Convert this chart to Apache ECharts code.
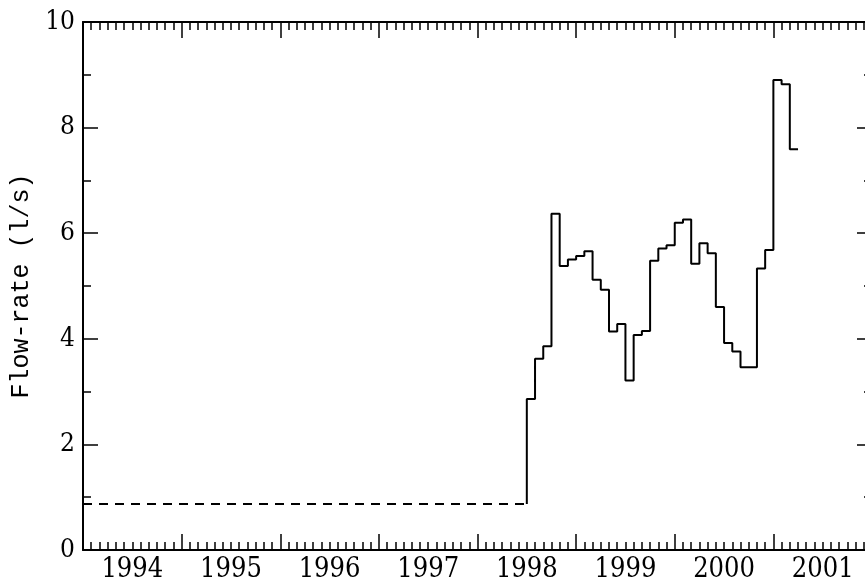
<!DOCTYPE html>
<html>
<head>
<meta charset="utf-8">
<script src="https://cdn.jsdelivr.net/npm/echarts@6/dist/echarts.min.js"></script>
<style>
html,body{margin:0;padding:0;background:#fff}
#graph{width:865px;height:581px}
</style>
</head>
<body>
<div id="graph"></div>
<script>
// year labels, centred in each year band
var years = ['1994', '1995', '1996', '1997', '1998', '1999', '2000', '2001'];

// dashed baseline before measurements
var baseLevel = 0.87;
var baseStart = '1994-01';

// monthly flow-rate (l/s), one value per month start
var months = ['1998-07', '1998-08', '1998-09', '1998-10', '1998-11', '1998-12',
              '1999-01', '1999-02', '1999-03', '1999-04', '1999-05', '1999-06',
              '1999-07', '1999-08', '1999-09', '1999-10', '1999-11', '1999-12',
              '2000-01', '2000-02', '2000-03', '2000-04', '2000-05', '2000-06',
              '2000-07', '2000-08', '2000-09', '2000-10', '2000-11', '2000-12',
              '2001-01', '2001-02', '2001-03'];
var flow = [2.86, 3.62, 3.86, 6.37, 5.38, 5.50,
            5.57, 5.66, 5.12, 4.93, 4.14, 4.28,
            3.21, 4.07, 4.15, 5.48, 5.71, 5.77,
            6.20, 6.26, 5.42, 5.81, 5.62, 4.60,
            3.92, 3.76, 3.46, 3.46, 5.33, 5.68,
            8.90, 8.82, 7.59];
var lastEnd = '2001-04';   // end of the last monthly step

var yTicks = [0, 2, 4, 6, 8, 10];

function toYear(s) {
  var p = s.split('-');
  return +p[0] + (p[1] - 1) / 12;
}

var stepData = [[toYear(months[0]), baseLevel]];
for (var i = 0; i < months.length; i++) {
  stepData.push([toYear(months[i]), flow[i]]);
}
stepData.push([toYear(lastEnd), flow[flow.length - 1]]);

var dashData = [[toYear(baseStart), baseLevel], [toYear(months[0]), baseLevel]];

var black = '#000';
var tickFont = "'DejaVu Serif Condensed', 'Liberation Serif'";

function frameX(pos) {
  return {
    type: 'value', gridIndex: 0, position: pos,
    min: 1994, max: 2002, interval: 1,
    axisLine: {show: true, onZero: false, lineStyle: {color: black, width: 2}},
    axisTick: {show: true, inside: true, length: 16, lineStyle: {color: black, width: 1.5}},
    minorTick: {show: true, splitNumber: 12, length: 8, lineStyle: {color: black, width: 1.5}},
    axisLabel: {show: false},
    splitLine: {show: false},
    minorSplitLine: {show: false}
  };
}

function frameY(pos, labels) {
  return {
    type: 'value', gridIndex: 0, position: pos,
    min: yTicks[0], max: yTicks[yTicks.length - 1], interval: yTicks[1] - yTicks[0],
    axisLine: {show: true, onZero: false, lineStyle: {color: black, width: 2}},
    axisTick: {show: true, inside: true, length: 15, lineStyle: {color: black, width: 1.5}},
    minorTick: {show: true, splitNumber: 2, length: 8, lineStyle: {color: black, width: 1.5}},
    axisLabel: {show: labels, color: black, fontFamily: tickFont, fontSize: 26, margin: 8},
    splitLine: {show: false},
    minorSplitLine: {show: false}
  };
}

var yLeft = frameY('left', true);
yLeft.name = 'Flow-rate (l/s)';
yLeft.nameLocation = 'middle';
yLeft.nameRotate = 90;
yLeft.nameGap = 46;
yLeft.nameTextStyle = {color: black, fontFamily: 'Liberation Mono', fontSize: 25};

var myChart = echarts.init(document.getElementById('graph'));
var option = {
  animation: false,
  backgroundColor: '#fff',
  grid: [
    {left: 83, right: -7, top: 22, bottom: 31, outerBoundsMode: 'none', containLabel: false},
    {left: 83, right: -7, top: 22, bottom: 31, outerBoundsMode: 'none', containLabel: false}
  ],
  xAxis: [
    frameX('bottom'),
    frameX('top'),
    {
      type: 'category', gridIndex: 1, position: 'bottom',
      data: years, boundaryGap: true,
      axisLine: {show: false, onZero: false}, axisTick: {show: false},
      axisLabel: {color: black, fontFamily: tickFont, fontSize: 27, margin: 6},
      splitLine: {show: false}
    }
  ],
  yAxis: [
    yLeft,
    frameY('right', false),
    {type: 'value', gridIndex: 1, show: false, min: 0, max: 10}
  ],
  series: [
    {
      type: 'line', xAxisIndex: 0, yAxisIndex: 0,
      data: dashData, showSymbol: false,
      lineStyle: {color: black, width: 2, type: [9, 7]}
    },
    {
      type: 'line', xAxisIndex: 0, yAxisIndex: 0,
      data: stepData, step: 'end', showSymbol: false,
      lineStyle: {color: black, width: 2}
    }
  ]
};
myChart.setOption(option);
</script>
</body>
</html>
